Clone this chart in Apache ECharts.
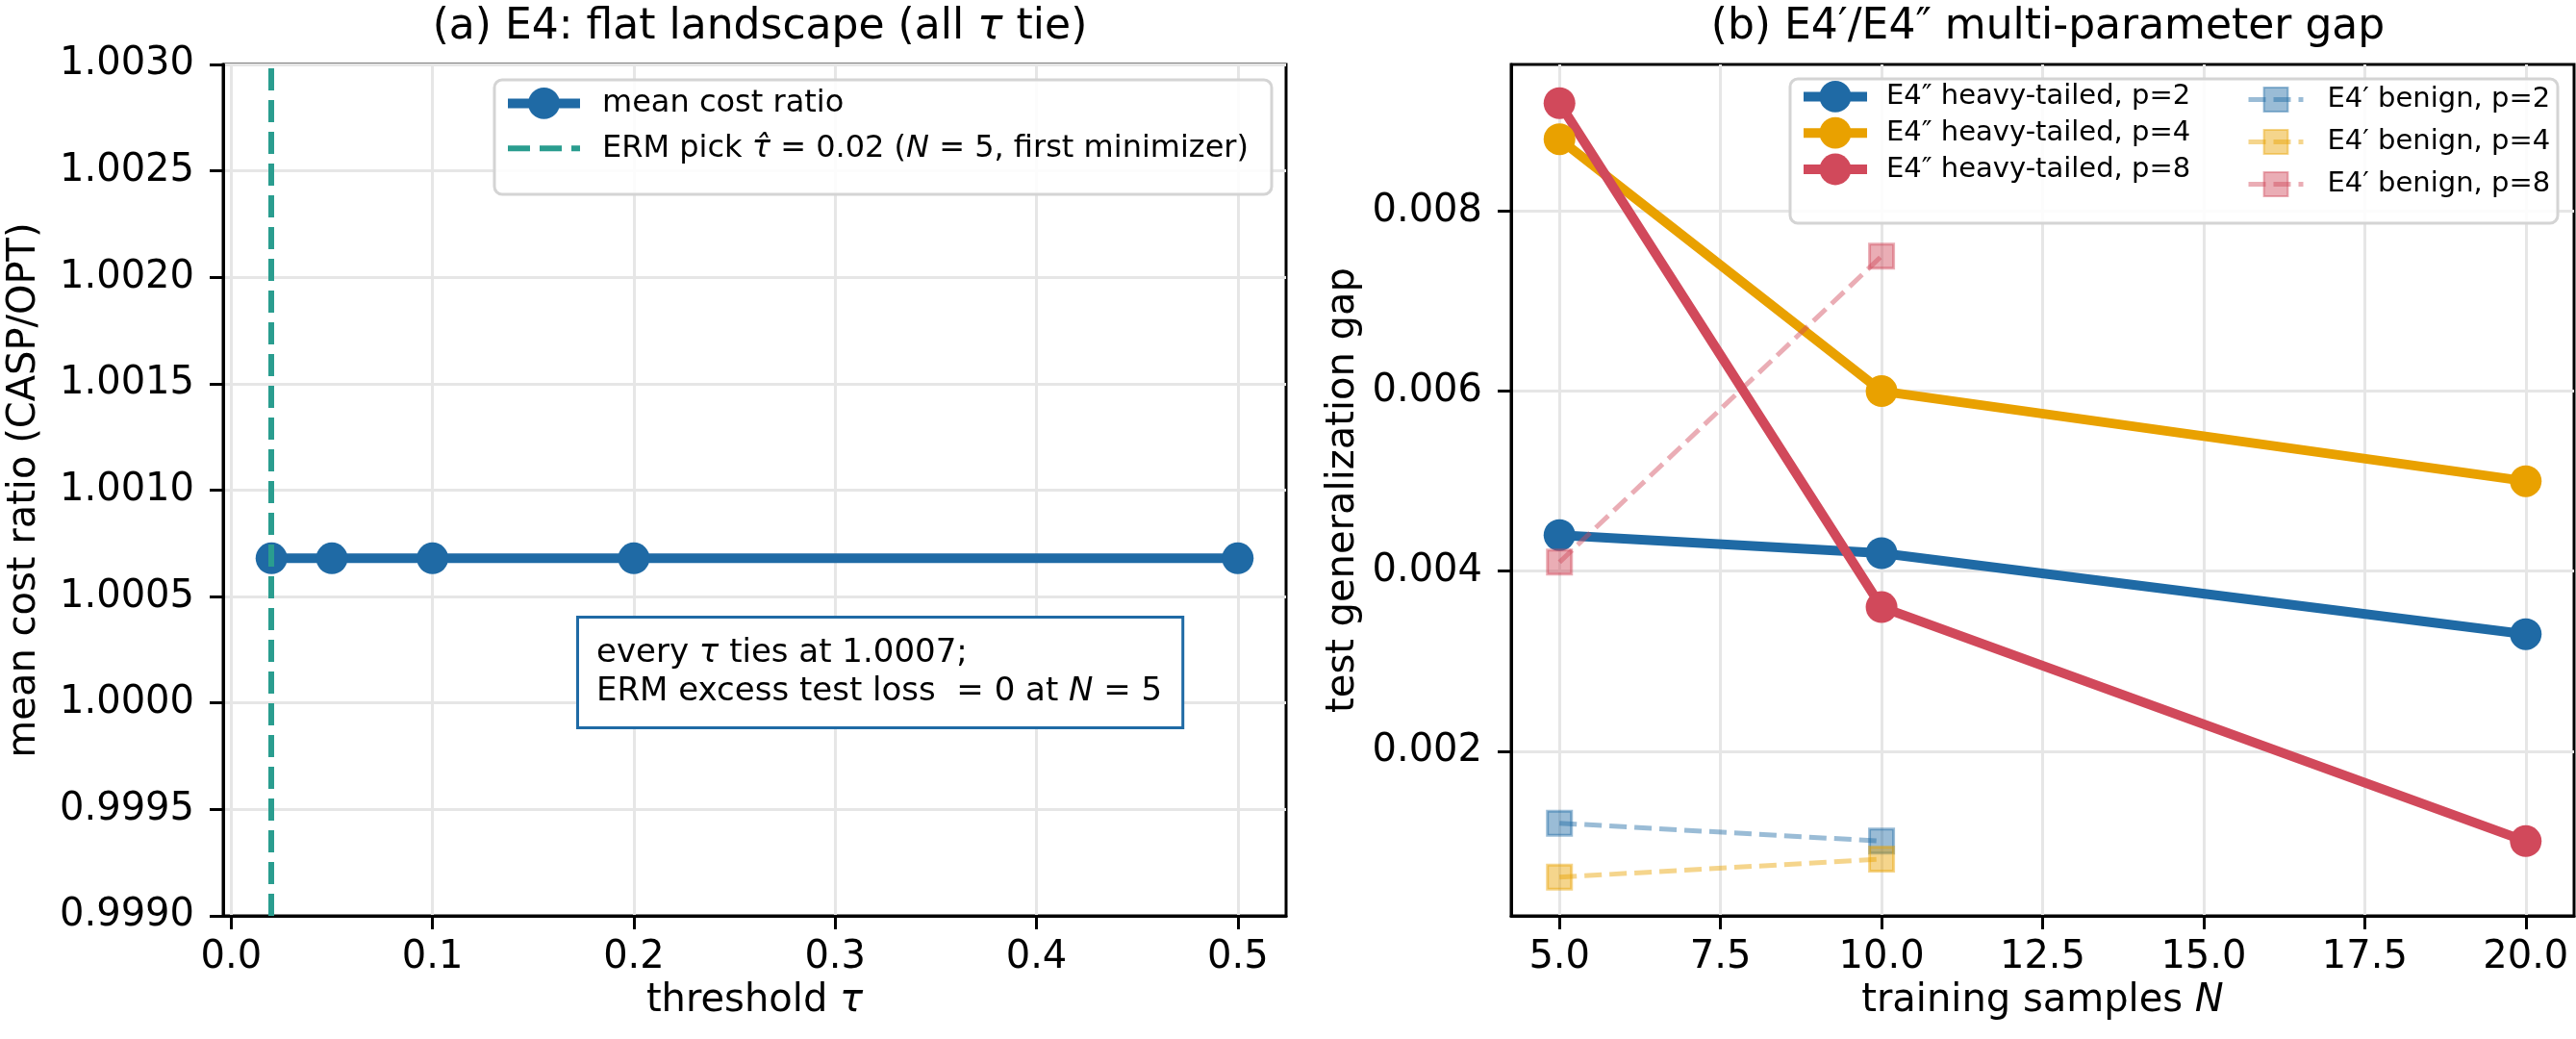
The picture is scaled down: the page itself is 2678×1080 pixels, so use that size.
<!DOCTYPE html>
<html>
<head>
<meta charset="utf-8">
<title>E4 flat landscape / multi-parameter gap</title>
<script src="https://cdn.jsdelivr.net/npm/echarts@6/dist/echarts.min.js"></script>
<style>
html, body { margin: 0; padding: 0; background: #fff; }
#chart { width: 2678px; height: 1080px; }
</style>
</head>
<body>
<div id="chart"></div>
<script>
// panel (a): threshold sweep
var tauValues = [0.02, 0.05, 0.1, 0.2, 0.5];
var meanCostRatio = [1.00068, 1.00068, 1.00068, 1.00068, 1.00068];
var tauHat = 0.02;
var tauTicks = [0.0, 0.1, 0.2, 0.3, 0.4, 0.5];
var ratioTicks = [0.9990, 0.9995, 1.0000, 1.0005, 1.0010, 1.0015, 1.0020, 1.0025, 1.0030];

// panel (b): generalization gap vs training samples
var nHeavy = [5, 10, 20];
var heavyP2 = [0.0044, 0.0042, 0.0033];
var heavyP4 = [0.0088, 0.0060, 0.0050];
var heavyP8 = [0.0092, 0.0036, 0.0010];
var nBenign = [5, 10];
var benignP2 = [0.0012, 0.0010];
var benignP4 = [0.0006, 0.0008];
var benignP8 = [0.0041, 0.0075];
var nTicks = [5, 7.5, 10, 12.5, 15, 17.5, 20];
var gapTicks = [0.002, 0.004, 0.006, 0.008];

var FONT = "'DejaVu Sans', sans-serif";
var BLUE = '#1f6aa5';
var ORANGE = '#e9a100';
var RED = '#d1495b';
var TEAL = '#2a9d8f';

function pts(xs, ys) {
    return xs.map(function (x, i) { return [x, ys[i]]; });
}
function rgba(hex, a) {
    var n = parseInt(hex.slice(1), 16);
    return 'rgba(' + (n >> 16) + ',' + ((n >> 8) & 255) + ',' + (n & 255) + ',' + a + ')';
}
var italic = { fontStyle: 'italic', fontFamily: FONT };

function xAxisOf(gridIndex, min, max, ticks, digits, name) {
    return {
        type: 'value', gridIndex: gridIndex, min: min, max: max,
        name: name, nameLocation: 'middle', nameGap: 68,
        nameTextStyle: { fontSize: 40, color: '#000', fontFamily: FONT,
            rich: { i: Object.assign({ fontSize: 40, color: '#000' }, italic) } },
        axisLine: { show: true, onZero: false, lineStyle: { color: '#000', width: 3 } },
        axisTick: { show: true, customValues: ticks, length: 14, lineStyle: { color: '#000', width: 3 } },
        axisLabel: { customValues: ticks, fontSize: 40, color: '#000', fontFamily: FONT, margin: 24,
            formatter: function (v) { return v.toFixed(digits); } },
        splitLine: { show: true, lineStyle: { color: '#e6e6e6', width: 3 } }
    };
}
function yAxisOf(gridIndex, min, max, ticks, digits, name, gap) {
    return {
        type: 'value', gridIndex: gridIndex, min: min, max: max,
        name: name, nameLocation: 'middle', nameGap: gap,
        nameTextStyle: { fontSize: 40, color: '#000', fontFamily: FONT },
        axisLine: { show: true, onZero: false, lineStyle: { color: '#000', width: 3 } },
        axisTick: { show: true, customValues: ticks, length: 14, lineStyle: { color: '#000', width: 3 } },
        axisLabel: { customValues: ticks, fontSize: 40, color: '#000', fontFamily: FONT, margin: 30,
            formatter: function (v) { return v.toFixed(digits); } },
        splitLine: { show: true, lineStyle: { color: '#e6e6e6', width: 3 } }
    };
}

function heavy(name, ys, color) {
    return {
        name: name, type: 'line', xAxisIndex: 1, yAxisIndex: 1,
        data: pts(nHeavy, ys), symbol: 'circle', symbolSize: 33,
        lineStyle: { color: color, width: 10 }, itemStyle: { color: color },
        emphasis: { disabled: true }
    };
}
function benign(name, ys, color) {
    return {
        name: name, type: 'line', xAxisIndex: 1, yAxisIndex: 1,
        data: pts(nBenign, ys), symbol: 'rect', symbolSize: 25,
        lineStyle: { color: rgba(color, 0.45), width: 5, type: [18, 8] },
        itemStyle: { color: rgba(color, 0.45), borderColor: rgba(color, 0.45), borderWidth: 3 },
        emphasis: { disabled: true }
    };
}

var meanName = 'mean cost ratio';
var ermName = 'ERM pick';
var legendText = {};
legendText[ermName] = 'ERM pick {i|\u03c4\u0302} = ' + tauHat.toFixed(2) + ' ({i|N} = 5, first minimizer)';

var heavyNames = ['E4\u2033 heavy-tailed, p=2', 'E4\u2033 heavy-tailed, p=4', 'E4\u2033 heavy-tailed, p=8'];
var benignNames = ['E4\u2032 benign, p=2', 'E4\u2032 benign, p=4', 'E4\u2032 benign, p=8'];

var chart = echarts.init(document.getElementById('chart'));
var option = {
    animation: false,
    backgroundColor: '#fff',
    textStyle: { fontFamily: FONT },
    title: [{
        text: '(a) E4: flat landscape (all {i|\u03c4} tie)',
        left: 785, top: 2, textAlign: 'center',
        textStyle: { fontSize: 44, fontWeight: 'normal', color: '#000', fontFamily: FONT,
            rich: { i: Object.assign({ fontSize: 44, color: '#000' }, italic) } }
    }, {
        text: '(b) E4\u2032/E4\u2033 multi-parameter gap',
        left: 2124, top: 2, textAlign: 'center',
        textStyle: { fontSize: 44, fontWeight: 'normal', color: '#000', fontFamily: FONT }
    }],
    grid: [
        { left: 232, top: 67, width: 1105, height: 885, show: true, borderColor: '#000', borderWidth: 3 },
        { left: 1571, top: 67, width: 1105, height: 885, show: true, borderColor: '#000', borderWidth: 3 }
    ],
    xAxis: [
        xAxisOf(0, -0.004, 0.524, tauTicks, 1, 'threshold {i|\u03c4}'),
        xAxisOf(1, 4.25, 20.75, nTicks, 1, 'training samples {i|N}')
    ],
    yAxis: [
        yAxisOf(0, 0.999, 1.003, ratioTicks, 4, 'mean cost ratio (CASP/OPT)', 186),
        yAxisOf(1, 0.00017, 0.00963, gapTicks, 3, 'test generalization gap', 154)
    ],
    legend: [{
        data: [meanName, { name: ermName, itemStyle: { opacity: 0 } }], orient: 'vertical',
        left: 523, top: 91, padding: 0, itemWidth: 75, itemHeight: 41, itemGap: 14,
        lineStyle: { width: 'inherit' },
        formatter: function (n) { return legendText[n] || n; },
        textStyle: { fontSize: 32, color: '#000', fontFamily: FONT, padding: [0, 0, 0, 18],
            rich: { i: Object.assign({ fontSize: 32, color: '#000' }, italic) } }
    }, {
        data: heavyNames, orient: 'vertical',
        left: 1870, top: 84, padding: 0, itemWidth: 66, itemHeight: 41, itemGap: 5,
        lineStyle: { width: 'inherit' },
        textStyle: { fontSize: 29, color: '#000', fontFamily: FONT, padding: [0, 0, 0, 15] }
    }, {
        data: benignNames, orient: 'vertical',
        left: 2335, top: 89, padding: 0, itemWidth: 57, itemHeight: 31, itemGap: 15,
        lineStyle: { width: 'inherit' },
        textStyle: { fontSize: 29, color: '#000', fontFamily: FONT, padding: [0, 0, 0, 20] }
    }],
    graphic: [{
        type: 'rect', z: 3, silent: true,
        shape: { x: 514, y: 83, width: 808, height: 119, r: 8 },
        style: { fill: 'rgba(255,255,255,0.85)', stroke: '#d4d4d4', lineWidth: 3 }
    }, {
        type: 'rect', z: 3, silent: true,
        shape: { x: 1861, y: 82, width: 798, height: 150, r: 8 },
        style: { fill: 'rgba(255,255,255,0.85)', stroke: '#d4d4d4', lineWidth: 3 }
    }, {
        type: 'text', z: 5, silent: true,
        x: 602, y: 643,
        style: {
            text: 'every {i|\u03c4} ties at 1.0007;\nERM excess test loss  = 0 at {i|N} = 5',
            font: "34px 'DejaVu Sans'", fill: '#000', lineHeight: 40,
            backgroundColor: '#fff', borderColor: BLUE, borderWidth: 3,
            padding: [16, 20, 16, 18],
            rich: { i: { fontStyle: 'italic', fontSize: 34, fontFamily: FONT, lineHeight: 40 } }
        }
    }],
    series: [{
        name: meanName, type: 'line', xAxisIndex: 0, yAxisIndex: 0,
        data: pts(tauValues, meanCostRatio), symbol: 'circle', symbolSize: 33,
        lineStyle: { color: BLUE, width: 10 }, itemStyle: { color: BLUE },
        emphasis: { disabled: true }, z: 2
    }, {
        name: ermName, type: 'line', xAxisIndex: 0, yAxisIndex: 0,
        data: [], symbol: 'none',
        lineStyle: { color: TEAL, width: 6, type: [23, 10] }, itemStyle: { color: TEAL },
        markLine: {
            silent: true, symbol: ['none', 'none'], label: { show: false },
            lineStyle: { color: TEAL, width: 6, type: [23, 10] },
            data: [{ xAxis: tauHat }]
        }
    },
        heavy(heavyNames[0], heavyP2, BLUE),
        heavy(heavyNames[1], heavyP4, ORANGE),
        heavy(heavyNames[2], heavyP8, RED),
        benign(benignNames[0], benignP2, BLUE),
        benign(benignNames[1], benignP4, ORANGE),
        benign(benignNames[2], benignP8, RED)
    ]
};
chart.setOption(option);
</script>
</body>
</html>
